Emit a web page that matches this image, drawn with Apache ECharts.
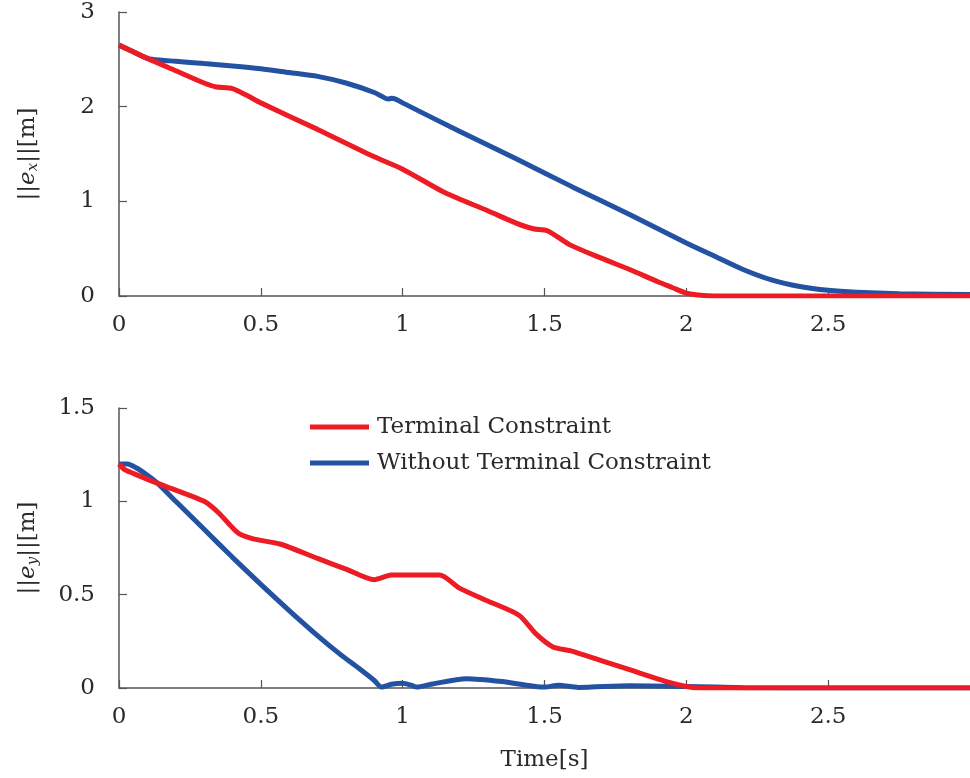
<!DOCTYPE html>
<html>
<head>
<meta charset="utf-8">
<script src="https://cdn.jsdelivr.net/npm/echarts@6/dist/echarts.min.js"></script>
<style>html,body{margin:0;padding:0;background:#fff}#c{width:970px;height:778px}</style>
</head>
<body>
<div id="c"></div>
<script>
const xTicks = [0, 0.5, 1, 1.5, 2, 2.5, 3];
const seriesNames = ['Terminal Constraint', 'Without Terminal Constraint'];

const topRedT = [0, 0.1, 0.2, 0.3, 0.34, 0.4, 0.45, 0.5, 0.7, 0.9, 1.0, 1.15, 1.3, 1.4, 1.46, 1.51, 1.59, 1.7, 1.8, 1.9, 1.95, 2.0, 2.05, 2.1, 2.5, 3.0];
const topRedV = [2.65, 2.51, 2.38, 2.25, 2.21, 2.19, 2.12, 2.04, 1.76, 1.47, 1.34, 1.09, 0.9, 0.77, 0.71, 0.69, 0.54, 0.40, 0.28, 0.15, 0.09, 0.03, 0.007, 0, 0, 0];

const topBlueT = [0, 0.05, 0.1, 0.15, 0.2, 0.3, 0.4, 0.5, 0.6, 0.7, 0.8, 0.9, 0.95, 0.96, 0.975, 1.0, 1.2, 1.4, 1.6, 1.8, 2.0, 2.1, 2.2, 2.3, 2.4, 2.5, 2.6, 2.75, 3.0];
const topBlueV = [2.65, 2.58, 2.51, 2.49, 2.48, 2.455, 2.43, 2.40, 2.36, 2.32, 2.25, 2.15, 2.08, 2.09, 2.08, 2.04, 1.74, 1.45, 1.15, 0.86, 0.56, 0.42, 0.28, 0.17, 0.1, 0.06, 0.04, 0.025, 0.015];

const botRedT = [0, 0.02, 0.05, 0.13, 0.2, 0.3, 0.35, 0.42, 0.47, 0.57, 0.7, 0.8, 0.9, 0.96, 1.13, 1.2, 1.3, 1.41, 1.47, 1.53, 1.59, 1.7, 1.8, 1.94, 2.0, 2.05, 2.5, 3.0];
const botRedV = [1.2, 1.17, 1.15, 1.10, 1.06, 1.0, 0.94, 0.83, 0.80, 0.77, 0.694, 0.637, 0.58, 0.605, 0.605, 0.535, 0.466, 0.39, 0.29, 0.22, 0.2, 0.147, 0.098, 0.03, 0.008, 0, 0, 0];

const botBlueT = [0, 0.03, 0.06, 0.1, 0.134, 0.2, 0.3, 0.4, 0.5, 0.6, 0.708, 0.78, 0.85, 0.9, 0.925, 0.96, 1.0, 1.03, 1.05, 1.1, 1.225, 1.35, 1.5, 1.55, 1.62, 1.8, 2.0, 2.2, 2.5, 3.0];
const botBlueV = [1.2, 1.2, 1.18, 1.14, 1.10, 1.0, 0.85, 0.70, 0.555, 0.415, 0.27, 0.18, 0.1, 0.04, 0.005, 0.02, 0.025, 0.015, 0.005, 0.02, 0.05, 0.035, 0.005, 0.015, 0.003, 0.012, 0.008, 0.002, 0, 0];

const zip = (t, v) => t.map((x, i) => [x, v[i]]);
const FONT = 'DejaVu Serif';
const TXT = '#2a2a2a';
const AX = '#555';
const RED = '#ED1C24';
const BLUE = '#2352A2';

function xAxis(idx, name) {
  return {
    type: 'value', gridIndex: idx, min: 0, max: 3, interval: 0.5,
    name: name, nameLocation: 'middle', nameGap: 61,
    nameTextStyle: { fontFamily: FONT, fontSize: 23, color: TXT },
    axisLine: { show: true, lineStyle: { color: AX, width: 1.5 } },
    axisTick: { show: true, inside: true, length: 8, lineStyle: { color: AX, width: 1.2 } },
    axisLabel: { fontFamily: FONT, fontSize: 23, color: TXT, margin: 18, showMaxLabel: false },
    splitLine: { show: false }
  };
}
function yAxis(idx, max, interval, sub) {
  return {
    type: 'value', gridIndex: idx, min: 0, max: max, interval: interval,
    name: '{n|||}{e|e}{s|' + sub + '}{n|||[m]}', nameLocation: 'middle', nameGap: 78,
    nameTextStyle: {
      fontFamily: FONT, fontSize: 23, color: TXT,
      rich: {
        n: { fontFamily: FONT, fontSize: 23, color: TXT },
        e: { fontFamily: FONT, fontSize: 23, fontStyle: 'italic', color: TXT },
        s: { fontFamily: FONT, fontSize: 15, fontStyle: 'italic', color: TXT, verticalAlign: 'bottom', padding: [10, 0, 0, 0] }
      }
    },
    axisLine: { show: true, lineStyle: { color: AX, width: 1.5 } },
    axisTick: { show: true, inside: true, length: 8, lineStyle: { color: AX, width: 1.2 } },
    axisLabel: { fontFamily: FONT, fontSize: 23, color: TXT, margin: 24 },
    splitLine: { show: false }
  };
}
function line(name, data, color, xi) {
  return {
    name: name, type: 'line', xAxisIndex: xi, yAxisIndex: xi, data: data,
    showSymbol: false, symbol: 'none', smooth: 0.25,
    lineStyle: { color: color, width: 5 }, itemStyle: { color: color },
    z: color === RED ? 3 : 2, animation: false
  };
}

const chart = echarts.init(document.getElementById('c'), null, { renderer: 'canvas' });
chart.setOption({
  animation: false,
  backgroundColor: '#fff',
  grid: [
    { left: 119, top: 12, width: 852, height: 284 },
    { left: 119, top: 408, width: 852, height: 280 }
  ],
  xAxis: [xAxis(0, ''), xAxis(1, 'Time[s]')],
  yAxis: [yAxis(0, 3, 1, 'x'), yAxis(1, 1.5, 0.5, 'y')],
  legend: {
    data: seriesNames, orient: 'vertical', left: 310, top: 414, padding: 0,
    itemWidth: 59, itemHeight: 5, itemGap: 10, icon: 'rect',
    textStyle: { fontFamily: FONT, fontSize: 23, color: TXT, lineHeight: 26, padding: [0, 0, 0, 3] }
  },
  series: [
    line(seriesNames[1], zip(topBlueT, topBlueV), BLUE, 0),
    line(seriesNames[0], zip(topRedT, topRedV), RED, 0),
    line(seriesNames[1], zip(botBlueT, botBlueV), BLUE, 1),
    line(seriesNames[0], zip(botRedT, botRedV), RED, 1)
  ]
});
</script>
</body>
</html>
